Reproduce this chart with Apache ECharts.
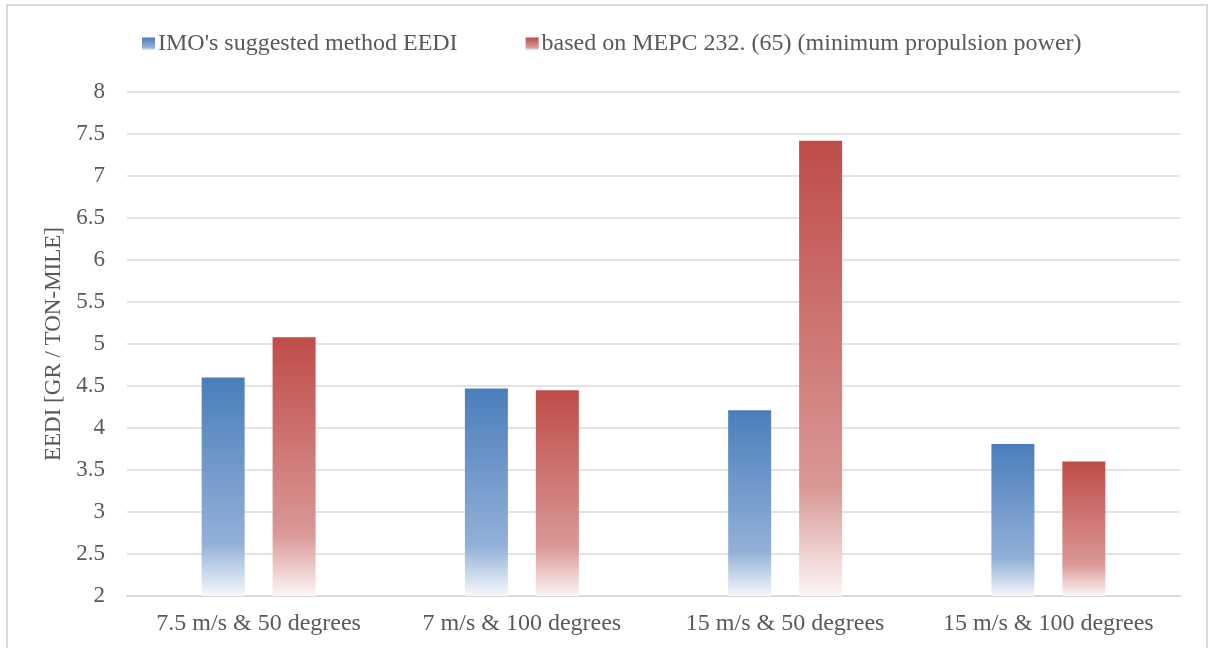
<!DOCTYPE html>
<html>
<head>
<meta charset="utf-8">
<title>EEDI comparison</title>
<script src="https://cdn.jsdelivr.net/npm/echarts@6/dist/echarts.min.js"></script>
<style>
  html, body { margin: 0; padding: 0; background: #ffffff; }
  #chart { width: 1208px; height: 648px; }
</style>
</head>
<body>
<div id="chart"></div>
<script>
// Operating conditions (wind speed & heading)
const categories = ['7.5 m/s & 50 degrees', '7 m/s & 100 degrees', '15 m/s & 50 degrees', '15 m/s & 100 degrees'];

// EEDI values [gr / ton-mile]
const imoMethod = [4.60, 4.47, 4.21, 3.81];
const mepcMinPower = [5.08, 4.45, 7.42, 3.60];

const seriesNames = ["IMO's suggested method EEDI", 'based on MEPC 232. (65) (minimum propulsion power)'];

const yMin = 2, yMax = 8, yStep = 0.5;

const FONT = '"Liberation Serif", "Times New Roman", serif';
const TEXT = '#595959';

// Vertical fade: solid at the top of each bar, washing out to white near the base
function fade(top, mid, bottom) {
  return new echarts.graphic.LinearGradient(0, 0, 0, 1, [
    { offset: 0, color: top },
    { offset: 0.76, color: mid },
    { offset: 1, color: bottom }
  ]);
}
const blueFill = fade('#4a7ebb', '#93b0d8', '#f5f8fc');
const redFill = fade('#bf4c49', '#d99896', '#fdf5f5');

const chart = echarts.init(document.getElementById('chart'), null, { renderer: 'canvas' });

chart.setOption({
  backgroundColor: '#ffffff',
  animation: false,
  graphic: [{
    type: 'rect',
    shape: { x: 7, y: 5, width: 1200, height: 700 },
    style: { fill: 'none', stroke: '#d9d9d9', lineWidth: 2 },
    silent: true,
    z: -1
  }],
  legend: {
    top: 27,
    left: 137,
    itemWidth: 13,
    itemHeight: 13,
    itemGap: 68,
    icon: 'rect',
    textStyle: { fontFamily: FONT, fontSize: 24, color: TEXT, padding: [0, 0, 0, -2] },
    data: seriesNames
  },
  grid: {
    left: 127,
    right: 28,
    top: 92,
    bottom: 52,
    containLabel: false
  },
  xAxis: {
    type: 'category',
    data: categories,
    axisLine: { show: true, lineStyle: { color: '#d9d9d9', width: 2 } },
    axisTick: { show: false },
    axisLabel: { interval: 0, hideOverlap: false, fontFamily: FONT, fontSize: 24, color: TEXT, margin: 16 }
  },
  yAxis: {
    type: 'value',
    min: yMin,
    max: yMax,
    interval: yStep,
    name: 'EEDI [GR / TON-MILE]',
    nameLocation: 'middle',
    nameRotate: 90,
    nameGap: 62,
    nameTextStyle: { fontFamily: FONT, fontSize: 23, color: TEXT },
    axisLine: { show: false },
    axisTick: { show: false },
    axisLabel: { fontFamily: FONT, fontSize: 23, color: TEXT, margin: 22 },
    splitLine: { lineStyle: { color: '#e3e3e3', width: 2 } }
  },
  series: [
    {
      name: seriesNames[0],
      type: 'bar',
      data: imoMethod,
      barWidth: 43,
      barGap: '65%',
      itemStyle: { color: blueFill }
    },
    {
      name: seriesNames[1],
      type: 'bar',
      data: mepcMinPower,
      barWidth: 43,
      barGap: '65%',
      itemStyle: { color: redFill }
    }
  ]
});
</script>
</body>
</html>
